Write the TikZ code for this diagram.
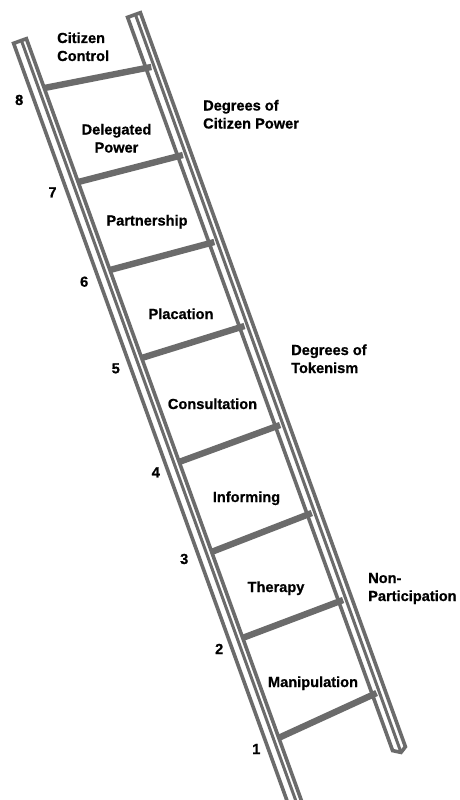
\documentclass[tikz,border=0pt]{standalone}
\usepackage{fontspec}
\setmainfont{Liberation Sans}[BoldFeatures={FakeBold=0.8}]
\definecolor{railgray}{HTML}{6B6B6B}
\tikzset{
  railline/.style={draw=railgray, line width=3.6pt, line join=miter},
  railmid/.style={draw=railgray, line width=3.0pt},
  rungbar/.style={draw=railgray, line width=6.4pt},
  steplabel/.style={font=\fontsize{14.6}{18}\selectfont\bfseries, inner sep=0pt, anchor=base},
  twoline/.style={steplabel, align=center},
  sidelabel/.style={steplabel, align=left, anchor=base west},
  rungnum/.style={steplabel}
}
\begin{document}
\begin{tikzpicture}[x=1pt,y=-1pt]
\useasboundingbox (0,0) rectangle (460,800);
\fill[white] (0,0) rectangle (460,800);

% rung end points: left ends on the left rail, right ends on the right rail
\coordinate (r8l) at (44.4,88);   \coordinate (r8r) at (151.3,67);
\coordinate (r7l) at (78.2,182);  \coordinate (r7r) at (182.9,155);
\coordinate (r6l) at (109.9,270); \coordinate (r6r) at (214.3,242);
\coordinate (r5l) at (141.6,358); \coordinate (r5r) at (244.5,326);
\coordinate (r4l) at (179.0,462); \coordinate (r4r) at (280.1,425);
\coordinate (r3l) at (211.4,552); \coordinate (r3r) at (311.8,513);
\coordinate (r2l) at (242.4,638); \coordinate (r2r) at (343.1,600);
\coordinate (r1l) at (278.4,738); \coordinate (r1r) at (376.6,693);

% left rail corners
\coordinate (lta) at (13.6,43.3);  \coordinate (ltb) at (26.4,38.7);  \coordinate (ltm) at (21.4,40.5);
\coordinate (lba) at (294.8,822.3); \coordinate (lbb) at (307.6,817.7); \coordinate (lbm) at (302.6,819.5);
% right rail corners
\coordinate (rta) at (127.6,17.3); \coordinate (rtb) at (140.4,12.7); \coordinate (rtm) at (135.4,14.5);
\coordinate (rba) at (392.6,750.6); \coordinate (rbp) at (401.0,752.4); \coordinate (rbb) at (405.4,746.7);

\begin{scope}
\clip (0,0) rectangle (460,800);
% rungs
\foreach \k in {1,...,8} {
  \draw[rungbar] (r\k l) -- (r\k r);
}
% left rail
\draw[railline] (lta) -- (ltb) -- (lbb) -- (lba) -- cycle;
\draw[railmid] (ltm) -- (lbm);
% right rail
\draw[railline] (rta) -- (rtb) -- (rbb) -- (rbp) -- (rba) -- cycle;
\draw[railmid] (rtm) -- (rbp);
\end{scope}

% step names (two-line nodes sit on the baseline of their last line)
\node[sidelabel] (cc) at (57,61) {Citizen\\Control};
\node[twoline] (dp) at (116.5,152.5) {Delegated\\Power};
\node[steplabel] (pa) at (147,225.5) {Partnership};
\node[steplabel] (pl) at (181,319) {Placation};
\node[steplabel] (co) at (212.5,409) {Consultation};
\node[steplabel] (in) at (246.5,502) {Informing};
\node[steplabel] (th) at (276,592) {Therapy};
\node[steplabel] (ma) at (313,687) {Manipulation};

% step numbers
\node[rungnum] (n8) at (19.2,105) {8};
\node[rungnum] (n7) at (52.5,197.3) {7};
\node[rungnum] (n6) at (84.2,286.7) {6};
\node[rungnum] (n5) at (115.8,373.3) {5};
\node[rungnum] (n4) at (155.8,477.3) {4};
\node[rungnum] (n3) at (184.2,564) {3};
\node[rungnum] (n2) at (219.2,654) {2};
\node[rungnum] (n1) at (256.3,754) {1};

% groups
\node[sidelabel] (gcp) at (203,128.5) {Degrees of\\Citizen Power};
\node[sidelabel] (gtk) at (291,373) {Degrees of\\Tokenism};
\node[sidelabel] (gnp) at (368,601) {Non-\\Participation};
\end{tikzpicture}
\end{document}
